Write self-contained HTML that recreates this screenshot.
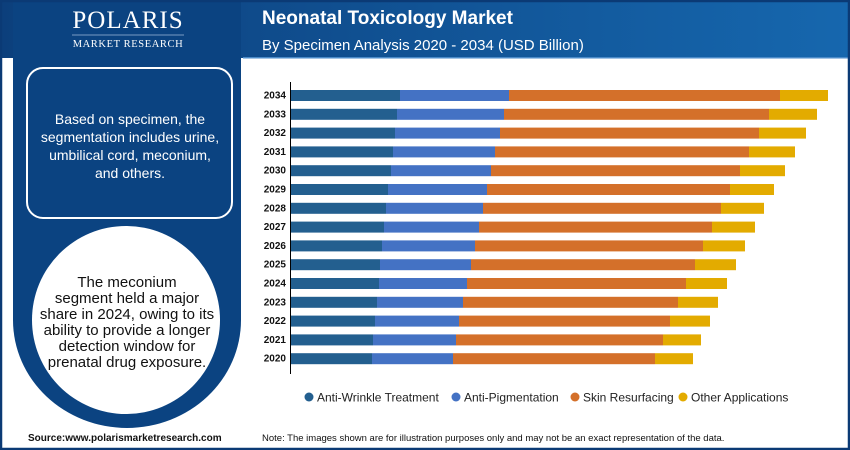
<!DOCTYPE html>
<html><head><meta charset="utf-8"><style>
html,body{margin:0;padding:0;width:850px;height:450px;overflow:hidden;background:#fff}
svg{display:block;font-family:"Liberation Sans",Arial,sans-serif}
</style></head><body>
<svg width="850" height="450" viewBox="0 0 850 450" xmlns="http://www.w3.org/2000/svg">
<defs><linearGradient id="hg" x1="0" x2="1" y1="0" y2="0"><stop offset="0" stop-color="#0c3f7c"/><stop offset="1" stop-color="#1667ae"/></linearGradient></defs>
<rect x="0" y="0" width="850" height="450" fill="#fff"/>
<rect x="0" y="0" width="850" height="58" fill="url(#hg)"/>
<rect x="243" y="57" width="605" height="1.5" fill="#4a8ac8"/>
<path d="M13 0 H241 V320 A114 108 0 0 1 13 320 Z" fill="#0b4381"/>
<circle cx="126" cy="320" r="94" fill="#fff"/>
<rect x="243" y="58.5" width="603" height="370" fill="#fff"/>
<rect x="1" y="1" width="848" height="448" fill="none" stroke="#0b3a75" stroke-width="2.5"/>
<text x="128" y="28" fill="#fff" font-family="Liberation Serif,serif" font-size="25" text-anchor="middle" letter-spacing="1">POLARIS</text>
<line x1="72" y1="35" x2="184" y2="35" stroke="#9fb8d8" stroke-width="0.8"/>
<text x="128" y="47" fill="#fff" font-family="Liberation Serif,serif" font-size="10.5" text-anchor="middle" letter-spacing="0.6">MARKET RESEARCH</text>
<rect x="27" y="68" width="205" height="150" rx="16" fill="none" stroke="#fff" stroke-width="2"/>
<g fill="#fff" font-size="14" text-anchor="middle">
<text x="130" y="124">Based on specimen, the</text>
<text x="130" y="142">segmentation includes urine,</text>
<text x="130" y="160">umbilical cord, meconium,</text>
<text x="130" y="178">and others.</text>
</g>
<g fill="#111" font-size="15" text-anchor="middle">
<text x="127" y="287">The meconium</text>
<text x="127" y="303">segment held a major</text>
<text x="127" y="319">share in 2024, owing to its</text>
<text x="127" y="335">ability to provide a longer</text>
<text x="127" y="351">detection window for</text>
<text x="127" y="367">prenatal drug exposure.</text>
</g>
<text x="262" y="24" fill="#fff" font-size="19" font-weight="bold">Neonatal Toxicology Market</text>
<text x="262" y="50" fill="#fff" font-size="15">By Specimen Analysis 2020 - 2034 (USD Billion)</text>
<line x1="290.5" y1="82" x2="290.5" y2="374" stroke="#000" stroke-width="1"/>
<g font-size="12" fill="#222">
<circle cx="309" cy="397" r="4.5" fill="#235f8f"/><text x="317" y="401.5">Anti-Wrinkle Treatment</text>
<circle cx="456" cy="397" r="4.5" fill="#4472c4"/><text x="464" y="401.5">Anti-Pigmentation</text>
<circle cx="575" cy="397" r="4.5" fill="#d4702a"/><text x="583" y="401.5">Skin Resurfacing</text>
<circle cx="683" cy="397" r="4.5" fill="#e3ab00"/><text x="691" y="401.5">Other Applications</text>
</g>
<text x="28" y="441" font-size="10" font-weight="bold" fill="#111">Source:www.polarismarketresearch.com</text>
<text x="262" y="441" font-size="9.5" fill="#111">Note: The images shown are for illustration purposes only and may not be an exact representation of the data.</text>
<g font-size="10" font-weight="bold" fill="#111" text-anchor="end">
<text x="286" y="98.5">2034</text><text x="286" y="117.3">2033</text><text x="286" y="136.1">2032</text><text x="286" y="154.9">2031</text><text x="286" y="173.7">2030</text><text x="286" y="192.5">2029</text><text x="286" y="211.3">2028</text><text x="286" y="230.1">2027</text><text x="286" y="248.9">2026</text><text x="286" y="267.7">2025</text><text x="286" y="286.5">2024</text><text x="286" y="305.3">2023</text><text x="286" y="324.1">2022</text><text x="286" y="342.9">2021</text><text x="286" y="361.7">2020</text>
</g>
<g>
<rect x="291" y="90" width="109" height="11" fill="#235f8f"/><rect x="400" y="90" width="109" height="11" fill="#4472c4"/><rect x="509" y="90" width="271" height="11" fill="#d4702a"/><rect x="780" y="90" width="48" height="11" fill="#e3ab00"/>
<rect x="291" y="108.8" width="106" height="11" fill="#235f8f"/><rect x="397" y="108.8" width="107" height="11" fill="#4472c4"/><rect x="504" y="108.8" width="265" height="11" fill="#d4702a"/><rect x="769" y="108.8" width="48" height="11" fill="#e3ab00"/>
<rect x="291" y="127.6" width="104" height="11" fill="#235f8f"/><rect x="395" y="127.6" width="105" height="11" fill="#4472c4"/><rect x="500" y="127.6" width="259" height="11" fill="#d4702a"/><rect x="759" y="127.6" width="47" height="11" fill="#e3ab00"/>
<rect x="291" y="146.4" width="102" height="11" fill="#235f8f"/><rect x="393" y="146.4" width="102" height="11" fill="#4472c4"/><rect x="495" y="146.4" width="254" height="11" fill="#d4702a"/><rect x="749" y="146.4" width="46" height="11" fill="#e3ab00"/>
<rect x="291" y="165.2" width="100" height="11" fill="#235f8f"/><rect x="391" y="165.2" width="100" height="11" fill="#4472c4"/><rect x="491" y="165.2" width="249" height="11" fill="#d4702a"/><rect x="740" y="165.2" width="45" height="11" fill="#e3ab00"/>
<rect x="291" y="184" width="97" height="11" fill="#235f8f"/><rect x="388" y="184" width="99" height="11" fill="#4472c4"/><rect x="487" y="184" width="243" height="11" fill="#d4702a"/><rect x="730" y="184" width="44" height="11" fill="#e3ab00"/>
<rect x="291" y="202.8" width="95" height="11" fill="#235f8f"/><rect x="386" y="202.8" width="97" height="11" fill="#4472c4"/><rect x="483" y="202.8" width="238" height="11" fill="#d4702a"/><rect x="721" y="202.8" width="43" height="11" fill="#e3ab00"/>
<rect x="291" y="221.6" width="93" height="11" fill="#235f8f"/><rect x="384" y="221.6" width="95" height="11" fill="#4472c4"/><rect x="479" y="221.6" width="233" height="11" fill="#d4702a"/><rect x="712" y="221.6" width="43" height="11" fill="#e3ab00"/>
<rect x="291" y="240.4" width="91" height="11" fill="#235f8f"/><rect x="382" y="240.4" width="93" height="11" fill="#4472c4"/><rect x="475" y="240.4" width="228" height="11" fill="#d4702a"/><rect x="703" y="240.4" width="42" height="11" fill="#e3ab00"/>
<rect x="291" y="259.2" width="89" height="11" fill="#235f8f"/><rect x="380" y="259.2" width="91" height="11" fill="#4472c4"/><rect x="471" y="259.2" width="224" height="11" fill="#d4702a"/><rect x="695" y="259.2" width="41" height="11" fill="#e3ab00"/>
<rect x="291" y="278" width="88" height="11" fill="#235f8f"/><rect x="379" y="278" width="88" height="11" fill="#4472c4"/><rect x="467" y="278" width="219" height="11" fill="#d4702a"/><rect x="686" y="278" width="41" height="11" fill="#e3ab00"/>
<rect x="291" y="296.8" width="86" height="11" fill="#235f8f"/><rect x="377" y="296.8" width="86" height="11" fill="#4472c4"/><rect x="463" y="296.8" width="215" height="11" fill="#d4702a"/><rect x="678" y="296.8" width="40" height="11" fill="#e3ab00"/>
<rect x="291" y="315.6" width="84" height="11" fill="#235f8f"/><rect x="375" y="315.6" width="84" height="11" fill="#4472c4"/><rect x="459" y="315.6" width="211" height="11" fill="#d4702a"/><rect x="670" y="315.6" width="40" height="11" fill="#e3ab00"/>
<rect x="291" y="334.4" width="82" height="11" fill="#235f8f"/><rect x="373" y="334.4" width="83" height="11" fill="#4472c4"/><rect x="456" y="334.4" width="207" height="11" fill="#d4702a"/><rect x="663" y="334.4" width="38" height="11" fill="#e3ab00"/>
<rect x="291" y="353.2" width="81" height="11" fill="#235f8f"/><rect x="372" y="353.2" width="81" height="11" fill="#4472c4"/><rect x="453" y="353.2" width="202" height="11" fill="#d4702a"/><rect x="655" y="353.2" width="38" height="11" fill="#e3ab00"/>
</g>
</svg>
</body></html>
